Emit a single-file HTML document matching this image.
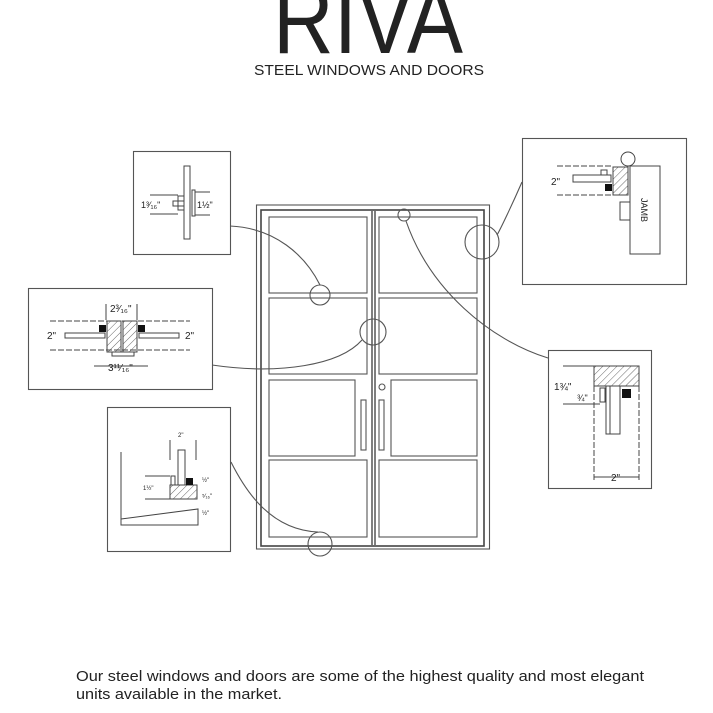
<!DOCTYPE html>
<html><head><meta charset="utf-8"><style>
html,body{margin:0;padding:0;background:#fff;width:713px;height:713px;overflow:hidden}
svg{display:block}
text{font-family:"Liberation Sans",sans-serif;fill:#222}
</style></head><body>
<svg width="713" height="713" viewBox="0 0 713 713" xmlns="http://www.w3.org/2000/svg">
<defs>
<pattern id="h" width="5" height="5" patternUnits="userSpaceOnUse" patternTransform="rotate(45)">
<line x1="0" y1="0" x2="0" y2="5" stroke="#444" stroke-width="0.8"/></pattern>
</defs>
<!-- header -->
<text x="368" y="53" font-size="98" text-anchor="middle" textLength="190" lengthAdjust="spacingAndGlyphs" fill="#111" style="font-weight:normal">RIVA</text>
<text x="369" y="75" font-size="14.5" text-anchor="middle" textLength="230" lengthAdjust="spacingAndGlyphs">STEEL WINDOWS AND DOORS</text>

<g fill="none" stroke="#555" stroke-width="1.1">
<!-- door frame -->
<rect x="256.5" y="205" width="233" height="344"/>
<rect x="261" y="210" width="223" height="336" stroke-width="1.6" stroke="#444"/>
<line x1="372" y1="211" x2="372" y2="545" stroke-width="1.5"/>
<line x1="375" y1="211" x2="375" y2="545" stroke-width="1.5"/>
<rect x="269" y="217" width="98" height="76"/>
<rect x="379" y="217" width="98" height="76"/>
<rect x="269" y="298" width="98" height="76"/>
<rect x="379" y="298" width="98" height="76"/>
<rect x="269" y="380" width="86" height="76"/>
<rect x="391" y="380" width="86" height="76"/>
<rect x="269" y="460" width="98" height="77"/>
<rect x="379" y="460" width="98" height="77"/>
<rect x="361" y="400" width="5" height="50"/>
<rect x="379" y="400" width="5" height="50"/>
<circle cx="382" cy="387" r="3"/>
<!-- callout circles -->
<circle cx="320" cy="295" r="10"/>
<circle cx="373" cy="332" r="13"/>
<circle cx="404" cy="215" r="6"/>
<circle cx="482" cy="242" r="17"/>
<circle cx="320" cy="544" r="12"/>
<!-- connectors -->
<path d="M230 226 C275 228 305 255 320 285"/>
<path d="M212 365 C280 375 340 365 362 340"/>
<path d="M231 462 C245 490 270 530 318 532"/>
<path d="M522 182 C512 205 500 230 497 235"/>
<path d="M406 221 C430 290 490 340 548 358"/>
<!-- boxes -->
<rect x="133.5" y="151.5" width="97" height="103"/>
<rect x="28.5" y="288.5" width="184" height="101"/>
<rect x="107.5" y="407.5" width="123" height="144"/>
<rect x="522.5" y="138.5" width="164" height="146"/>
<rect x="548.5" y="350.5" width="103" height="138"/>
</g>

<!-- box1 detail -->
<g stroke="#444" stroke-width="1" fill="none">
<rect x="184" y="166" width="6" height="73"/>
<rect x="173" y="201" width="11" height="5"/>
<rect x="178" y="196" width="6" height="14"/>
<rect x="192" y="190" width="3" height="26"/>
<line x1="150" y1="195" x2="178" y2="195"/><line x1="150" y1="214" x2="178" y2="214"/>
<line x1="195" y1="192" x2="210" y2="192"/><line x1="195" y1="215" x2="210" y2="215"/>
</g>
<text x="141" y="208" font-size="9">1³⁄₁₆"</text>
<text x="197" y="208" font-size="9">1½"</text>

<!-- box2 detail -->
<g stroke="#444" stroke-width="1" fill="none">
<rect x="65" y="333" width="40" height="5"/>
<rect x="139" y="333" width="40" height="5"/>
<rect x="107" y="321" width="14" height="31" fill="url(#h)"/>
<rect x="123" y="321" width="14" height="31" fill="url(#h)"/>
<rect x="112" y="352" width="22" height="4"/>
<line x1="50" y1="321" x2="190" y2="321" stroke-dasharray="6 2"/>
<line x1="50" y1="350" x2="190" y2="350" stroke-dasharray="6 2"/>
<line x1="106" y1="304" x2="106" y2="320"/><line x1="137" y1="304" x2="137" y2="320"/>
<line x1="94" y1="366" x2="148" y2="366"/>
</g>
<rect x="99" y="325" width="7" height="7" fill="#111"/>
<rect x="138" y="325" width="7" height="7" fill="#111"/>
<text x="110" y="312" font-size="10">2³⁄₁₆"</text>
<text x="47" y="339" font-size="10">2"</text>
<text x="185" y="339" font-size="10">2"</text>
<text x="108" y="371" font-size="10">3¹¹⁄₁₆"</text>

<!-- box3 detail -->
<g stroke="#444" stroke-width="1" fill="none">
<polyline points="121,452 121,525 198,525 198,509 121,519"/>
<rect x="178" y="450" width="7" height="35"/>
<rect x="170" y="485" width="27" height="14" fill="url(#h)"/>
<rect x="171" y="476" width="4" height="9"/>
<line x1="170" y1="440" x2="170" y2="460"/><line x1="196" y1="440" x2="196" y2="460"/>
<line x1="145" y1="476" x2="170" y2="476"/><line x1="145" y1="499" x2="170" y2="499"/>
</g>
<rect x="186" y="478" width="7" height="7" fill="#111"/>
<text x="178" y="437" font-size="6">2"</text>
<text x="143" y="490" font-size="6">1½"</text>
<text x="202" y="482" font-size="6">½"</text>
<text x="202" y="498" font-size="6">⁵⁄₁₆"</text>
<text x="202" y="515" font-size="6">½"</text>

<!-- box4 detail -->
<g stroke="#444" stroke-width="1" fill="none">
<rect x="630" y="166" width="30" height="88"/>
<rect x="620" y="202" width="10" height="18"/>
<rect x="613" y="167" width="15" height="28" fill="url(#h)"/>
<rect x="573" y="175" width="38" height="7"/>
<rect x="601" y="170" width="6" height="5"/>
<circle cx="628" cy="159" r="7"/>
<line x1="557" y1="166" x2="612" y2="166" stroke-dasharray="6 2"/>
<line x1="557" y1="195" x2="612" y2="195" stroke-dasharray="6 2"/>
</g>
<rect x="605" y="184" width="7" height="7" fill="#111"/>
<text x="0" y="0" font-size="9" transform="translate(641,198) rotate(90)">JAMB</text>
<text x="551" y="185" font-size="10">2"</text>

<!-- box5 detail -->
<g stroke="#444" stroke-width="1" fill="none">
<rect x="594" y="366" width="45" height="20" fill="url(#h)"/>
<rect x="606" y="386" width="14" height="48"/>
<line x1="610" y1="386" x2="610" y2="434"/>
<rect x="600" y="388" width="5" height="14"/>
<line x1="594" y1="386" x2="594" y2="480" stroke-dasharray="6 2"/>
<line x1="639" y1="386" x2="639" y2="480" stroke-dasharray="6 2"/>
<line x1="563" y1="366" x2="594" y2="366"/><line x1="563" y1="404" x2="600" y2="404"/>
<line x1="594" y1="477" x2="639" y2="477"/>
</g>
<rect x="622" y="389" width="9" height="9" fill="#111"/>
<text x="554" y="390" font-size="10">1¾"</text>
<text x="577" y="401" font-size="9">¾"</text>
<text x="611" y="481" font-size="10">2"</text>

<!-- paragraph -->
<text x="76" y="681" font-size="15" textLength="568" lengthAdjust="spacingAndGlyphs">Our steel windows and doors are some of the highest quality and most elegant</text>
<text x="76" y="699" font-size="15" textLength="206" lengthAdjust="spacingAndGlyphs">units available in the market.</text>
</svg>
</body></html>
